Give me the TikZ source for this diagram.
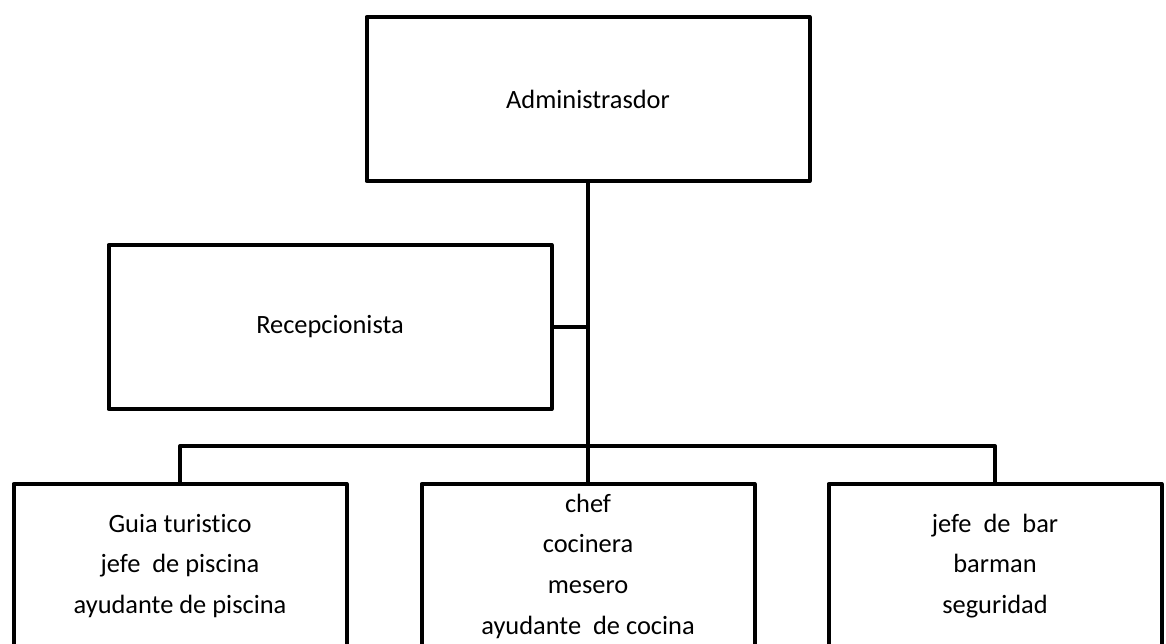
\documentclass[tikz,border=0pt]{standalone}
\usepackage{fontspec}
\setmainfont[Ligatures=NoCommon]{Carlito}
\usepackage{tikz}
\usetikzlibrary{positioning}

\begin{document}
\begin{tikzpicture}[x=0.75pt,y=-0.75pt,line width=3pt,line join=round]
  \tikzstyle{cargo}=[draw,rectangle,align=center,minimum width=332.25pt,minimum height=123pt,inner sep=0pt,
                     font=\fontsize{19.8}{30.5}\selectfont]
  \tikzstyle{rama}=[cargo,minimum width=249.75pt]

  \useasboundingbox (0,0) rectangle (1166,643);

  \node[cargo] (admin) at (588,99)  {Administrasdor};
  \node[cargo] (recep) at (330,327) {Recepcionista};

  \node[rama] (guia)   at (180,566) {Guia turistico\\jefe\ \ de piscina\\ayudante de piscina};
  \node[rama] (cocina) at (588,566) {chef\\cocinera\\mesero\\ayudante\ \ de cocina};
  \node[rama] (bar)    at (995,566) {jefe\ \ de\ \ bar\\barman\\seguridad};

  \coordinate (bus) at (588,446);

  \draw (admin.south) -- (cocina.north);
  \draw (recep.east) -- (recep.east -| admin.south);
  \draw (guia.north) |- (bus) -| (bar.north);
\end{tikzpicture}
\end{document}
